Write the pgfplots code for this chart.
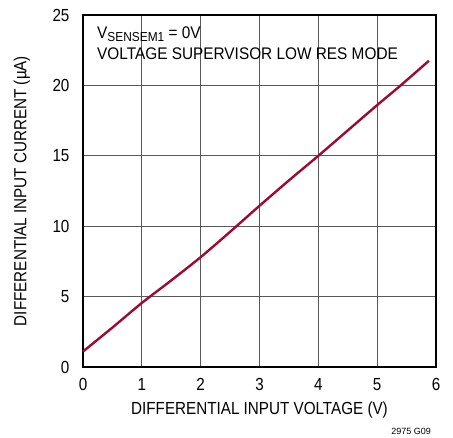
\documentclass[border=0pt]{standalone}
\usepackage{fontspec}
\setmainfont{Liberation Sans}
\newfontfamily\lblfont[FakeStretch=0.87]{Liberation Sans}
\newfontfamily\notefont[FakeStretch=0.915]{Liberation Sans}
\usepackage{pgfplots}
\pgfplotsset{compat=1.18}
\definecolor{curvered}{HTML}{9E0A30}
\begin{document}
\begin{tikzpicture}
\begin{axis}[
    scale only axis,
    width=353pt,
    height=352pt,
    xmin=0, xmax=6,
    ymin=0, ymax=25,
    xtick={0,1,...,6},
    ytick={0,5,...,25},
    grid=major,
    major grid style={black!65, line width=0.8pt},
    axis line style={black, line width=1.3pt},
    major tick length=0pt,
    /pgf/number format/assume math mode=true,
    tick label style={font=\lblfont\fontsize{17.5}{17.5}\selectfont},
    xticklabel style={yshift=-8pt},
    yticklabel style={xshift=-10pt},
    xlabel={DIFFERENTIAL INPUT VOLTAGE (V)},
    ylabel={DIFFERENTIAL INPUT CURRENT (µA)},
    label style={font=\lblfont\fontsize{17.5}{17.5}\selectfont},
    xlabel style={at={(axis description cs:0.5,-0.122)}, anchor=center},
    ylabel style={at={(axis description cs:-0.173,0.5)}, anchor=center},
    clip=false,
    ]
    \addplot[curvered, line width=2.4pt, smooth, tension=0.4] coordinates {
        (0,1.1) (0.5,2.8) (1,4.55) (1.5,6.15) (2,7.8) (2.5,9.6)
        (3,11.45) (3.5,13.25) (4,15.0) (4.5,16.8) (5,18.6) (5.4,20.0) (5.88,21.75)
    };
    \node[anchor=north west, align=left, inner sep=0pt,
          font=\notefont\fontsize{16.8}{21.5}\selectfont]
        at (rel axis cs:0,1) [xshift=14pt, yshift=-11.5pt]
        {V\raisebox{-3.5pt}{\fontsize{13}{13}\selectfont SENSEM1} = 0V\\
         VOLTAGE SUPERVISOR LOW RES MODE};
    \node[anchor=base east, inner sep=0pt, font=\fontsize{9}{9}\selectfont]
        at (rel axis cs:1,0) [xshift=-5pt, yshift=-68pt] {2975 G09};
\end{axis}
\path (-83pt,-71pt) rectangle (370pt,367pt);
\end{tikzpicture}
\end{document}
